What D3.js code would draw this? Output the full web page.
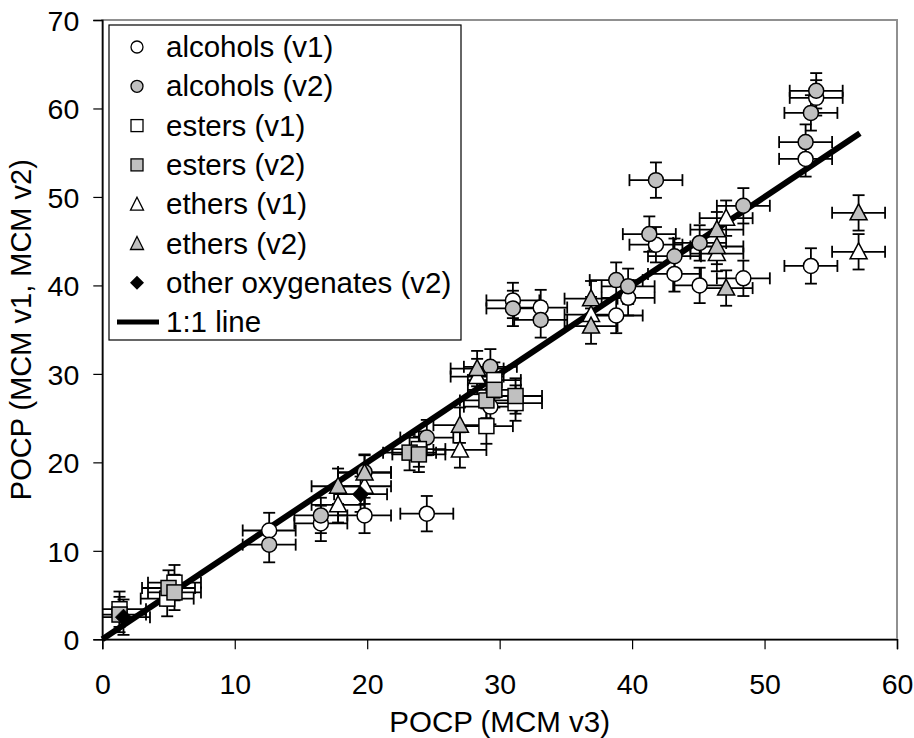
<!DOCTYPE html>
<html>
<head>
<meta charset="utf-8">
<script src="https://cdn.jsdelivr.net/npm/d3@7"></script>
<style>
  body { margin: 0; background: #fff; }
  text { font-family: "Liberation Sans", Arial, sans-serif; fill: #000; }
</style>
</head>
<body>
<script>
// Series values [POCP MCM v3, POCP MCM v1/v2]
const alcoholsV1 = [[12.6, 12.3], [16.5, 13.1], [19.8, 14.0], [24.5, 14.2], [29.3, 26.3], [31.0, 38.3],
    [33.1, 37.5], [38.8, 36.6], [39.7, 38.6], [41.8, 44.6], [43.2, 41.3], [45.1, 40.0], [48.4, 40.8],
    [53.1, 54.3], [53.9, 61.2], [53.5, 42.2]];
const alcoholsV2 = [[12.6, 10.7], [16.5, 14.0], [19.8, 18.9], [24.5, 22.8], [29.3, 30.8], [31.0, 37.4],
    [33.1, 36.1], [38.8, 40.6], [39.7, 39.9], [41.3, 45.8], [41.8, 51.9], [43.2, 43.3], [45.1, 44.8],
    [48.4, 49.0], [53.1, 56.2], [53.5, 59.5], [53.9, 62.0]];
const estersV1 = [[1.3, 3.4], [4.9, 4.6], [5.45, 6.4], [23.9, 21.5], [29.0, 24.1], [29.6, 29.3], [31.2, 26.7]];
const estersV2 = [[1.3, 2.8], [5.0, 5.8], [5.45, 5.3], [23.2, 21.1], [23.9, 20.9], [29.0, 27.0],
    [29.6, 28.2], [31.2, 27.5]];
const ethersV1 = [[17.8, 15.2], [19.8, 17.3], [27.0, 21.4], [28.3, 29.7], [36.9, 36.7], [46.4, 43.6],
    [47.1, 47.6], [57.1, 43.8]];
const ethersV2 = [[17.8, 17.3], [19.8, 18.8], [27.0, 24.2], [28.3, 30.6], [36.9, 38.5], [36.9, 35.4],
    [46.4, 46.3], [46.4, 44.4], [47.1, 39.7], [57.1, 48.2]];
const otherV2 = [[1.6, 2.5], [19.5, 16.4]];
const errX = 2, errY = 2;
const oneToOne = [[0, 0], [57.2, 57.2]];

const legendLabels = ["alcohols (v1)", "alcohols (v2)", "esters (v1)", "esters (v2)",
    "ethers (v1)", "ethers (v2)", "other oxygenates (v2)", "1:1 line"];
const xTicks = [0, 10, 20, 30, 40, 50, 60];
const yTicks = [0, 10, 20, 30, 40, 50, 60, 70];

const width = 914, height = 738;
const plotL = 102.3, plotR = 897, plotT = 20, plotB = 639.3;
const grey = "#c0c0c0";

const x = d3.scaleLinear().domain([0, 60]).range([plotL, plotR]);
const y = d3.scaleLinear().domain([0, 70]).range([plotB, plotT]);

const svg = d3.select("body").append("svg")
    .attr("width", width)
    .attr("height", height);

// plot frame
svg.append("rect")
    .attr("x", plotL).attr("y", plotT)
    .attr("width", plotR - plotL).attr("height", plotB - plotT)
    .attr("fill", "none").attr("stroke", "#909090").attr("stroke-width", 2);

// axes
const xAxis = svg.append("g")
    .attr("transform", `translate(0,${plotB})`)
    .call(d3.axisBottom(x).tickValues(xTicks).tickSize(10).tickPadding(24));
const yAxis = svg.append("g")
    .attr("transform", `translate(${plotL},0)`)
    .call(d3.axisLeft(y).tickValues(yTicks).tickSize(9).tickPadding(14));
[xAxis, yAxis].forEach(g => {
    g.select(".domain").attr("stroke", "#000").attr("stroke-width", 1.5);
    g.selectAll(".tick line").attr("stroke", "#000").attr("stroke-width", 1.2);
    g.selectAll(".tick text").attr("font-size", 28.5).attr("font-family", "Liberation Sans, Arial, sans-serif");
});
xAxis.selectAll(".tick text").attr("dy", "0.71em");
yAxis.selectAll(".tick text").attr("dy", "0.36em");

svg.append("text")
    .attr("x", (plotL + plotR) / 2).attr("y", 732)
    .attr("text-anchor", "middle").attr("font-size", 29.5)
    .text("POCP (MCM v3)");
svg.append("text")
    .attr("transform", `translate(31,${(plotT + plotB) / 2}) rotate(-90)`)
    .attr("text-anchor", "middle").attr("font-size", 29)
    .text("POCP (MCM v1, MCM v2)");

// marker shapes
const marker = (g, shape, fill, cx, cy) => {
    if (shape === "circle") {
        g.append("circle").attr("cx", cx).attr("cy", cy).attr("r", 7.5)
            .attr("fill", fill).attr("stroke", "#000").attr("stroke-width", 1.5);
    } else if (shape === "square") {
        g.append("rect").attr("x", cx - 7.5).attr("y", cy - 7.5).attr("width", 15).attr("height", 15)
            .attr("fill", fill).attr("stroke", "#000").attr("stroke-width", 1.5);
    } else if (shape === "triangle") {
        g.append("path").attr("d", `M${cx},${cy - 9}L${cx + 8.5},${cy + 7}L${cx - 8.5},${cy + 7}Z`)
            .attr("fill", fill).attr("stroke", "#000").attr("stroke-width", 1.5);
    } else {
        g.append("path").attr("d", `M${cx},${cy - 8}L${cx + 8},${cy}L${cx},${cy + 8}L${cx - 8},${cy}Z`)
            .attr("fill", fill).attr("stroke", "#000").attr("stroke-width", 1);
    }
};

const series = [
    { data: alcoholsV1, shape: "circle", fill: "#fff" },
    { data: alcoholsV2, shape: "circle", fill: grey },
    { data: estersV1, shape: "square", fill: "#fff" },
    { data: estersV2, shape: "square", fill: grey },
    { data: ethersV1, shape: "triangle", fill: "#fff" },
    { data: ethersV2, shape: "triangle", fill: grey },
    { data: otherV2, shape: "diamond", fill: "#000" }
];

// error bars
const bars = svg.append("g").attr("stroke", "#000").attr("stroke-width", 1.8);
const cap = 6;
series.forEach(s => {
    s.data.forEach(([dx, dy]) => {
        const px = x(dx), py = y(dy);
        const x0 = x(Math.max(dx - errX, 0)), x1 = x(dx + errX);
        const y0 = y(dy - errY), y1 = y(dy + errY);
        bars.append("line").attr("x1", x0).attr("x2", x1).attr("y1", py).attr("y2", py);
        bars.append("line").attr("x1", x1).attr("x2", x1).attr("y1", py - cap).attr("y2", py + cap);
        if (dx - errX > 0) bars.append("line").attr("x1", x0).attr("x2", x0).attr("y1", py - cap).attr("y2", py + cap);
        bars.append("line").attr("x1", px).attr("x2", px).attr("y1", y0).attr("y2", y1);
        bars.append("line").attr("x1", px - cap).attr("x2", px + cap).attr("y1", y0).attr("y2", y0);
        bars.append("line").attr("x1", px - cap).attr("x2", px + cap).attr("y1", y1).attr("y2", y1);
    });
});

// 1:1 line
svg.append("path")
    .datum(oneToOne)
    .attr("d", d3.line().x(d => x(d[0])).y(d => y(d[1])))
    .attr("stroke", "#000").attr("stroke-width", 6).attr("fill", "none");

// markers
const marks = svg.append("g");
series.forEach(s => {
    s.data.forEach(([dx, dy]) => marker(marks, s.shape, s.fill, x(dx), y(dy)));
});

// legend
const legend = svg.append("g");
legend.append("rect")
    .attr("x", 109).attr("y", 25).attr("width", 352).attr("height", 315)
    .attr("fill", "#fff").attr("stroke", "#000").attr("stroke-width", 1.2);
legendLabels.forEach((label, i) => {
    const ly = 47 + i * 39.3;
    if (i < series.length) {
        const s = series[i];
        const lg = legend.append("g");
        if (s.shape === "circle") {
            lg.append("circle").attr("cx", 137).attr("cy", ly).attr("r", 6)
                .attr("fill", s.fill).attr("stroke", "#000").attr("stroke-width", 1.3);
        } else if (s.shape === "square") {
            lg.append("rect").attr("x", 131).attr("y", ly - 6).attr("width", 12).attr("height", 12)
                .attr("fill", s.fill).attr("stroke", "#000").attr("stroke-width", 1.3);
        } else if (s.shape === "triangle") {
            lg.append("path").attr("d", `M137,${ly - 7}L143.5,${ly + 6}L130.5,${ly + 6}Z`)
                .attr("fill", s.fill).attr("stroke", "#000").attr("stroke-width", 1.3);
        } else {
            lg.append("path").attr("d", `M137,${ly - 7}L144,${ly}L137,${ly + 7}L130,${ly}Z`)
                .attr("fill", "#000");
        }
    } else {
        legend.append("line").attr("x1", 117).attr("x2", 159).attr("y1", ly).attr("y2", ly)
            .attr("stroke", "#000").attr("stroke-width", 5);
    }
    legend.append("text")
        .attr("x", 166).attr("y", ly + 10)
        .attr("font-size", 29.5)
        .text(label);
});
</script>
</body>
</html>
